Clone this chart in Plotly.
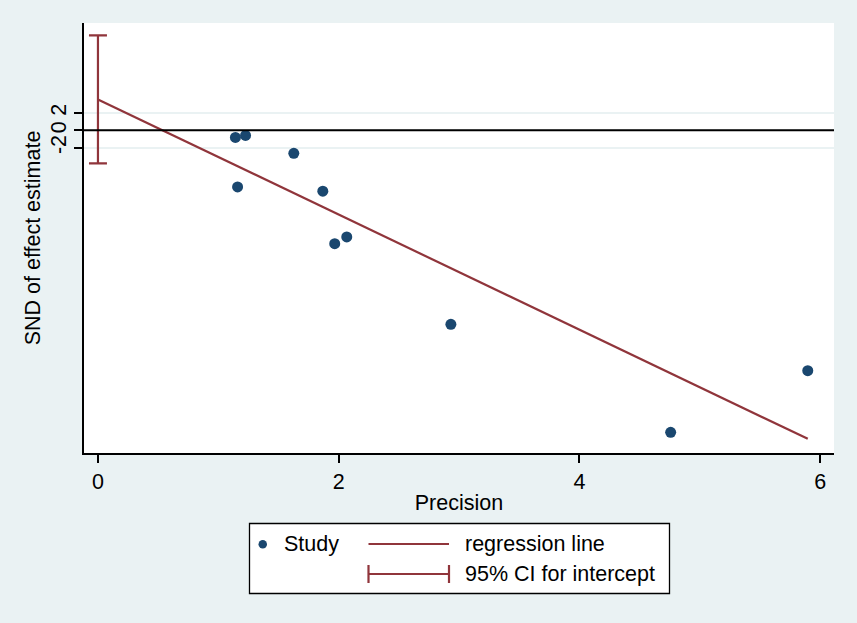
import plotly.graph_objects as go

# Data (Galbraith-type / Egger regression plot)
precision = [1.142, 1.226, 1.160, 1.627, 1.868, 1.967, 2.067, 2.932, 4.758, 5.897]
snd = [-0.81, -0.58, -6.51, -2.65, -7.01, -13.05, -12.28, -22.35, -34.79, -27.68]
intercept = 3.56
slope = -6.63
ci_low, ci_high = -3.80, 10.94
y_ticks = [-2, 0, 2]
x_ticks = [0, 2, 4, 6]

NAVY = "#1A476F"
MAROON = "#90353B"
BG = "#EAF2F3"
FONT = "Liberation Sans, Arial, sans-serif"
FS = 21.5

reg_x = [0, max(precision)]
reg_y = [intercept + slope * v for v in reg_x]

fig = go.Figure()
fig.add_trace(go.Scatter(
    x=precision, y=snd, mode="markers",
    marker=dict(color=NAVY, size=11), name="Study", showlegend=False))
fig.add_trace(go.Scatter(
    x=reg_x, y=reg_y, mode="lines",
    line=dict(color=MAROON, width=2.2), name="regression line", showlegend=False))
mid = (ci_low + ci_high) / 2
fig.add_trace(go.Scatter(
    x=[0], y=[mid], mode="markers",
    marker=dict(size=1, color="rgba(0,0,0,0)"),
    error_y=dict(type="data", symmetric=False,
                 array=[ci_high - mid], arrayminus=[mid - ci_low],
                 color=MAROON, thickness=2.2, width=9),
    name="95% CI for intercept", showlegend=False))

# Reference line at zero
fig.add_shape(type="line", xref="paper", yref="y", x0=0, x1=1, y0=0, y1=0,
              line=dict(color="black", width=2))

# Manual legend (paper coords; plot area 84..834 x 23..453 px)
def px(xp):
    return (xp - 84) / 750.0

def py(yp):
    return (453 - yp) / 430.0

fig.add_shape(type="rect", xref="paper", yref="paper",
              x0=px(249.5), x1=px(669.5), y0=py(523.5), y1=py(593.5),
              line=dict(color="black", width=1.3), fillcolor="white", layer="above")
# Study marker
fig.add_shape(type="circle", xref="paper", yref="paper",
              x0=px(258.5), x1=px(267), y0=py(540), y1=py(548.5),
              line=dict(color=NAVY, width=0), fillcolor=NAVY, layer="above")
# regression line sample
fig.add_shape(type="line", xref="paper", yref="paper",
              x0=px(368.5), x1=px(449), y0=py(544), y1=py(544),
              line=dict(color=MAROON, width=2.2), layer="above")
# CI sample
fig.add_shape(type="line", xref="paper", yref="paper",
              x0=px(368.5), x1=px(449), y0=py(574), y1=py(574),
              line=dict(color=MAROON, width=2.2), layer="above")
for xx in (368.5, 449):
    fig.add_shape(type="line", xref="paper", yref="paper",
                  x0=px(xx), x1=px(xx), y0=py(565), y1=py(583),
                  line=dict(color=MAROON, width=2.2), layer="above")

leg_items = [("Study", 281.5, 544), ("regression line", 462.5, 544),
             ("95% CI for intercept", 462.5, 574)]
for txt, xx, yy in leg_items:
    fig.add_annotation(text=txt, xref="paper", yref="paper", x=px(xx), y=py(yy),
                       xanchor="left", yanchor="middle", showarrow=False,
                       font=dict(family=FONT, size=FS, color="black"))

fig.update_layout(
    width=857, height=623,
    margin=dict(l=84, r=23, t=23, b=170),
    paper_bgcolor=BG, plot_bgcolor="white",
    font=dict(family=FONT, size=FS, color="black"),
    showlegend=False,
)
fig.update_xaxes(
    range=[-0.116, 6.115], tickvals=x_ticks, ticks="outside", ticklen=8,
    tickwidth=1.5, tickcolor="black", showgrid=False, zeroline=False,
    showline=True, linecolor="black", linewidth=1.5,
    title=dict(text="Precision", standoff=2, font=dict(size=FS)),
    tickfont=dict(size=FS))
fig.update_yaxes(
    range=[-37.17, 12.37], tickvals=y_ticks, ticktext=[str(v) for v in y_ticks],
    tickangle=-90, ticks="outside", ticklen=8, tickwidth=1.5, tickcolor="black",
    showgrid=True, gridcolor=BG, gridwidth=1.5, zeroline=False,
    showline=True, linecolor="black", linewidth=1.5,
    title=dict(text="SND of effect estimate", standoff=0, font=dict(size=FS)),
    tickfont=dict(size=FS))

fig.write_html(
    "out.html",
    config={"displayModeBar": False},
    post_script="document.body.style.margin='0';document.body.style.background='%s';" % BG,
)
